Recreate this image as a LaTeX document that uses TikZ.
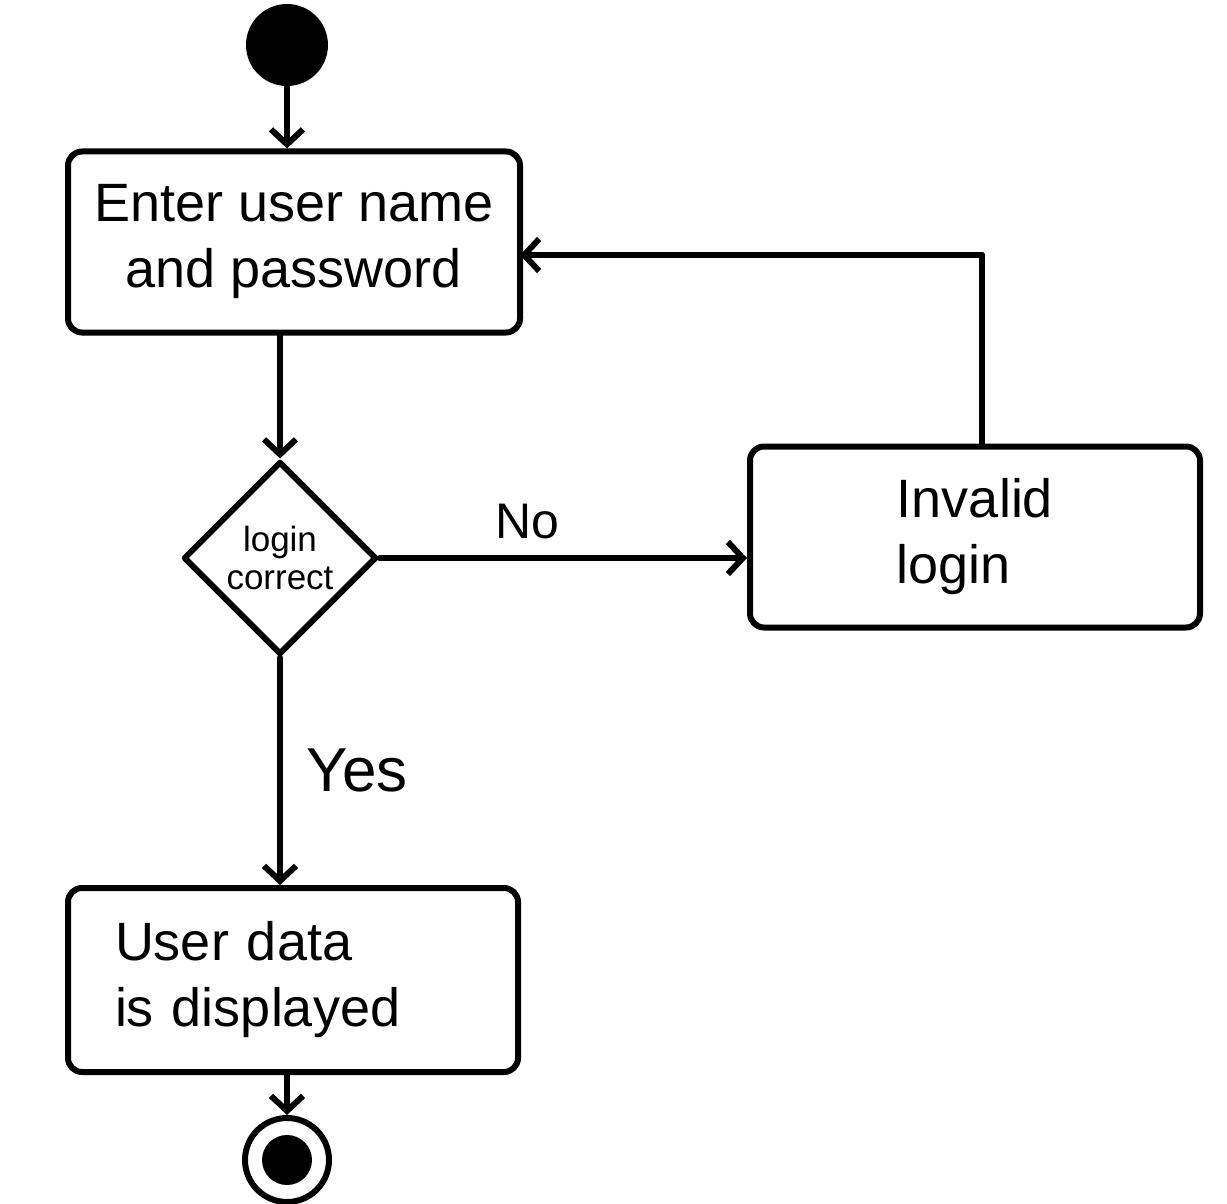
\documentclass[tikz,border=0pt]{standalone}
\usepackage{fontspec}
\setmainfont{Liberation Sans}
\usetikzlibrary{shapes.geometric,arrows.meta}
\tikzset{
  ln/.style={line width=6pt, line cap=round, line join=round},
  arr/.style={ln, -{Straight Barb[length=15pt,width=32pt,line width=6pt]}},
  box/.style={ln, draw, rounded corners=14pt, inner sep=0pt, font=\fontsize{54}{66}\selectfont},
  dec/.style={ln, draw, diamond, aspect=1, minimum size=193pt, inner sep=0pt, font=\fontsize{35}{38}\selectfont},
  lbl/.style={inner sep=0pt}
}
\begin{document}
\begin{tikzpicture}[x=1pt,y=-1pt]
\useasboundingbox (0,0) rectangle (1227,1204);
\node[fill=black, circle, minimum size=82pt, inner sep=0pt] (start) at (287,45) {};
\node[box, minimum width=452pt, minimum height=181pt, align=center] (enter) at (294,242) {Enter user name\\and password};
\node[dec, align=center] (dec) at (280,558) {login\\correct};
\node[box, minimum width=450pt, minimum height=181pt, align=left] (inv) at (975,537) {Invalid\\login};
\node[box, minimum width=450pt, minimum height=184pt, text width=356pt, align=left] (disp) at (293,980) {User data\\is displayed};
\node[ln, draw, circle, minimum size=84pt, inner sep=0pt] (endout) at (287,1160) {};
\node[fill=black, circle, minimum size=50pt, inner sep=0pt] (endin) at (287,1160) {};
\coordinate (corner) at (982,255);
\coordinate (back) at (520,255);
\draw[arr] (start) -- (start |- enter.north);
\draw[arr] (enter.south -| dec) -- (dec.north);
\draw[arr] (dec.east) -- (dec.east -| inv.west);
\draw[ln] (inv.north -| corner) -- (corner);
\draw[arr] (corner) -- (back);
\draw[arr] (dec.south) -- (dec.south |- disp.north);
\draw[arr] (disp.south -| endout) -- (endout.north);
\node[lbl, font=\fontsize{50}{56}\selectfont] (no) at (527,522) {No};
\node[lbl, font=\fontsize{62}{70}\selectfont] (yes) at (357,770) {Yes};
\end{tikzpicture}
\end{document}
